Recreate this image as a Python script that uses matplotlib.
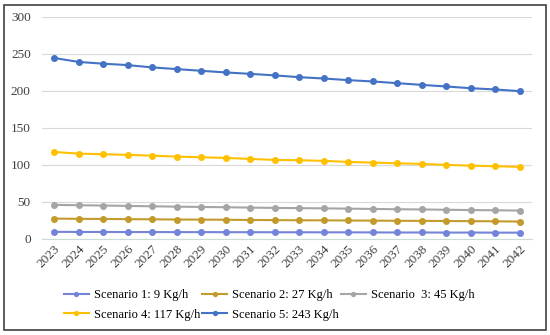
import matplotlib.pyplot as plt
from matplotlib.patches import Rectangle

years = [str(y) for y in range(2023, 2043)]

s1 = [9.5, 9.3, 9.3, 9.2, 9.2, 9.1, 9.1, 9.0, 9.0, 8.9, 8.9, 8.8, 8.8, 8.7, 8.6, 8.6, 8.5, 8.5, 8.4, 8.4]
s2 = [27.4, 27.0, 26.9, 26.6, 26.4, 26.1, 26.0, 25.8, 25.5, 25.3, 25.1, 25.0, 24.8, 24.6, 24.4, 24.3, 24.1, 23.9, 23.7, 23.4]
s3 = [45.9, 45.4, 45.0, 44.5, 44.0, 43.5, 43.1, 42.7, 42.2, 41.8, 41.5, 41.2, 40.8, 40.4, 40.0, 39.7, 39.3, 38.9, 38.6, 38.2]
s4 = [117.4, 115.1, 114.3, 113.4, 112.4, 111.1, 110.2, 109.3, 108.0, 106.6, 106.2, 105.3, 103.9, 103.0, 102.1, 101.2, 99.9, 98.9, 98.1, 97.2]
s5 = [244.3, 239.0, 236.6, 234.7, 231.6, 229.3, 227.0, 224.8, 222.9, 220.8, 218.4, 216.6, 214.4, 212.6, 210.3, 208.0, 205.8, 203.5, 201.8, 199.5]

labels = ['Scenario 1: 9 Kg/h', 'Scenario 2: 27 Kg/h', 'Scenario  3: 45 Kg/h',
          'Scenario 4: 117 Kg/h', 'Scenario 5: 243 Kg/h']
colors = ['#7484d8', '#c39a2c', '#a5a5a5', '#ffc000', '#4472c4']

plt.rcParams['font.family'] = ['Liberation Serif', 'DejaVu Serif']

fig = plt.figure(figsize=(5.5, 3.35), dpi=100)
ax = fig.add_axes([0.076, 0.287, 0.891, 0.663])

x = list(range(len(years)))
lines = []
for series, lab, col in zip([s1, s2, s3, s4, s5], labels, colors):
    ln, = ax.plot(x, series, color=col, lw=1.5, marker='o', ms=4, label=lab)
    lines.append(ln)

ax.set_xlim(-0.5, len(years) - 0.5)
ax.set_ylim(0, 300)
ax.set_yticks(range(0, 301, 50))
ax.set_xticks(x)
ax.set_xticklabels(years, rotation=45, ha='right', rotation_mode='anchor')
ax.tick_params(axis='both', length=0, labelsize=9.5, colors='#404040')
ax.tick_params(axis='y', pad=8)
ax.tick_params(axis='x', pad=3)
ax.grid(axis='y', color='#d9d9d9', lw=0.8)
ax.set_axisbelow(True)
for s in ['top', 'right', 'left']:
    ax.spines[s].set_visible(False)
ax.spines['bottom'].set_color('#c8dcd8')

# row-major order in a 3-column legend
order = [0, 3, 1, 4, 2]
fig.legend([lines[i] for i in order], [labels[i] for i in order],
           loc='lower left', bbox_to_anchor=(0.1, 0.017), ncol=3, frameon=False,
           fontsize=9, handlelength=2.0, columnspacing=0.15, handletextpad=0.4,
           labelspacing=0.6, markerscale=0.7, borderpad=0.2)

fig.patches.append(Rectangle((0.007, 0.015), 0.985, 0.97, transform=fig.transFigure,
                             fill=False, edgecolor='#404040', lw=1.2))

fig.savefig('out.png', dpi=100)
